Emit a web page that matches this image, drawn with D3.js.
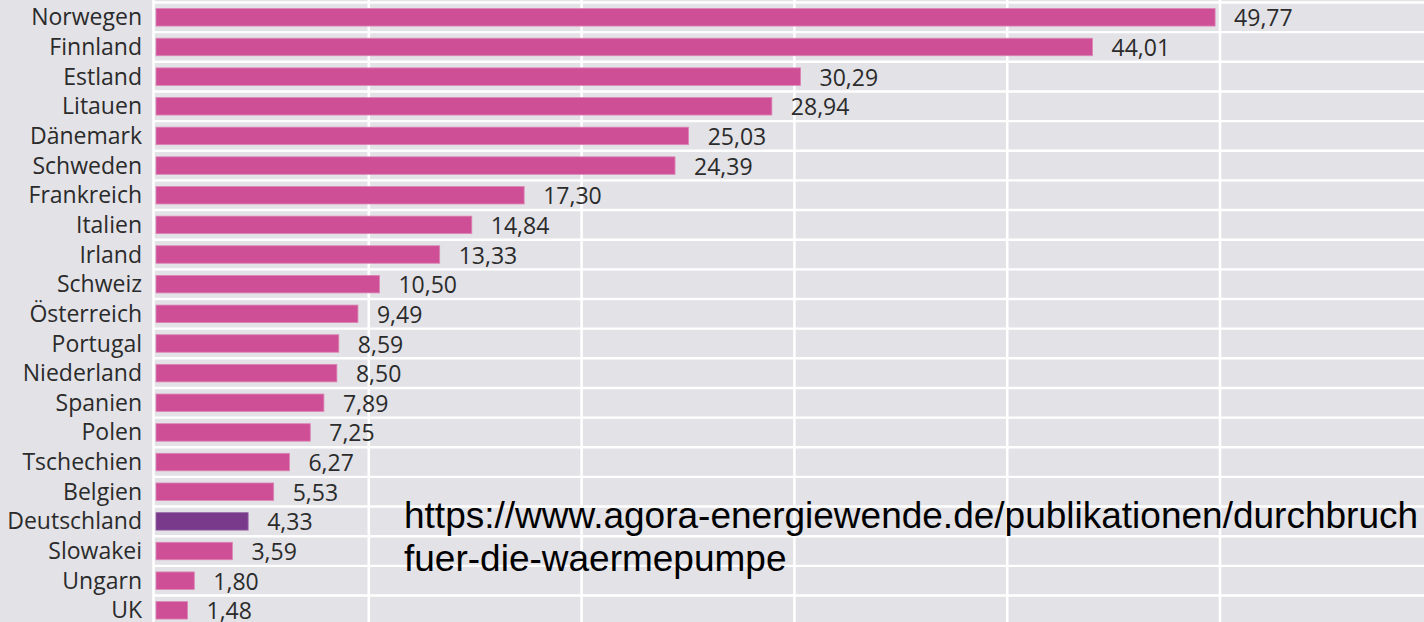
<!DOCTYPE html>
<html>
<head>
<meta charset="utf-8">
<script src="https://cdn.jsdelivr.net/npm/d3@7"></script>
<style>
  html, body { margin: 0; padding: 0; background: #e2e2e7; }
  svg { display: block; }
</style>
</head>
<body>
<svg id="chart" width="1424" height="622"></svg>
<script>
// Länder und Werte (von oben nach unten)
var countries = ['Norwegen','Finnland','Estland','Litauen','Dänemark','Schweden','Frankreich',
  'Italien','Irland','Schweiz','Österreich','Portugal','Niederland','Spanien','Polen',
  'Tschechien','Belgien','Deutschland','Slowakei','Ungarn','UK'];
var values = [49.77,44.01,30.29,28.94,25.03,24.39,17.30,14.84,13.33,10.50,9.49,8.59,
  8.50,7.89,7.25,6.27,5.53,4.33,3.59,1.80,1.48];
var highlight = ['Deutschland'];
var gridTicks = [0,10,20,30,40,50];
var sourceLines = ['https://www.agora-energiewende.de/publikationen/durchbruch',
  'fuer-die-waermepumpe'];

var data = countries.map(function(c, i){ return {country: c, value: values[i]}; });

var W = 1424, H = 622;
var svg = d3.select('#chart');

var x = d3.scaleLinear().domain([0, 50]).range([156, 1220]);
var y = d3.scaleBand().domain(countries).range([2.5, 2.5 + 21*29.65]).paddingInner(0.41).paddingOuter(0.205);

var fmt = function(v){ return d3.format('.2f')(v).replace('.', ','); };

// hintergrund
svg.append('rect').attr('width', W).attr('height', H).attr('fill', '#e2e2e7');

// horizontale trennlinien zwischen den zeilen
var step = y.step();
var seps = d3.range(countries.length + 1).map(function(i){ return y.range()[0] + i*step; });
svg.append('g').selectAll('line').data(seps).enter().append('line')
  .attr('x1', x(0) - 3).attr('x2', W)
  .attr('y1', function(d){ return d; }).attr('y2', function(d){ return d; })
  .attr('stroke', '#ffffff').attr('stroke-width', 2.4);

// vertikale gitterlinien
svg.append('g').selectAll('line').data(gridTicks).enter().append('line')
  .attr('x1', function(d){ return d === 0 ? x(d) - 2.5 : x(d); })
  .attr('x2', function(d){ return d === 0 ? x(d) - 2.5 : x(d); })
  .attr('y1', 0).attr('y2', H)
  .attr('stroke', '#ffffff').attr('stroke-width', 2.6);

// balken
svg.append('g').selectAll('rect').data(data).enter().append('rect')
  .attr('x', x(0))
  .attr('y', function(d){ return y(d.country); })
  .attr('width', function(d){ return x(d.value) - x(0); })
  .attr('height', y.bandwidth())
  .attr('fill', function(d){ return highlight.indexOf(d.country) >= 0 ? '#7a3a8b' : '#cf4f96'; })
  .attr('stroke', function(d){ return highlight.indexOf(d.country) >= 0 ? '#9a6aa8' : '#dc86b6'; })
  .attr('stroke-width', 0.8);

// länderbeschriftung
svg.append('g').selectAll('text').data(data).enter().append('text')
  .attr('x', 142)
  .attr('y', function(d){ return y(d.country) + y.bandwidth()/2; })
  .attr('dy', '0.35em')
  .attr('text-anchor', 'end')
  .attr('font-family', 'Open Sans, sans-serif')
  .attr('font-size', 23)
  .attr('fill', '#2b2b2b')
  .text(function(d){ return d.country; });

// werte
svg.append('g').selectAll('text').data(data).enter().append('text')
  .attr('x', function(d){ return x(d.value) + 19; })
  .attr('y', function(d){ return y(d.country) + y.bandwidth()/2 + 1; })
  .attr('dy', '0.35em')
  .attr('font-family', 'Open Sans, sans-serif')
  .attr('font-size', 23)
  .attr('fill', '#2b2b2b')
  .text(function(d){ return fmt(d.value); });

// quelle
svg.append('g').selectAll('text').data(sourceLines).enter().append('text')
  .attr('x', 404)
  .attr('y', function(d, i){ return 528 + i*43; })
  .attr('font-family', 'Liberation Sans, Arial, sans-serif')
  .attr('font-size', 37)
  .attr('fill', '#000')
  .text(function(d){ return d; });
</script>
</body>
</html>
